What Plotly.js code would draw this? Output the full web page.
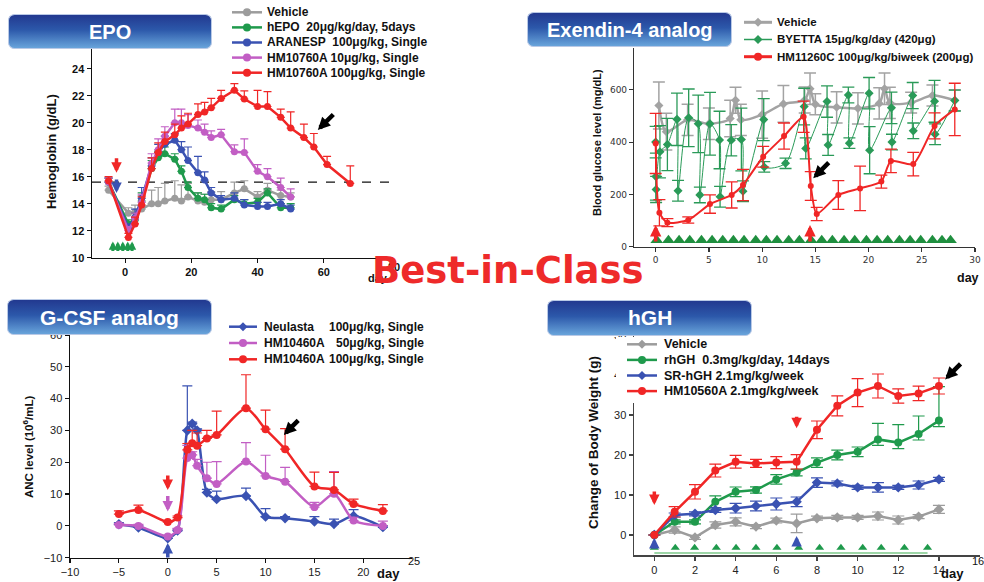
<!DOCTYPE html>
<html><head><meta charset="utf-8">
<script src="https://cdn.plot.ly/plotly-3.0.1.min.js"></script>
<style>html,body{margin:0;padding:0;background:#fff}#chart{width:984px;height:582px}</style>
</head><body><div id="chart"></div>
<script>
// ---------------- DATA ----------------
// EPO panel (Hemoglobin g/dL)
const epoDays      = [-5,1,3,5,8,10,12,15,17,19,22,24,26,29,33,36,40,43,47,50];
const epoDaysLong  = [-5,1,3,5,8,10,12,15,17,19,22,24,26,29,33,36,40,43,47,50,54,57,61,68];
const epoVehicle   = [15.0,13.3,13.4,13.6,14.0,14.0,14.2,14.4,14.2,14.5,14.2,14.1,14.3,14.3,14.8,15.1,14.5,15.0,14.6,14.5];
const epoHEPO      = [15.6,12.5,12.8,14.2,16.6,17.4,17.7,17.3,16.4,15.2,14.4,14.3,13.7,13.6,14.3,14.0,14.1,14.8,13.7,13.7];
const epoAranesp   = [15.6,12.2,13.0,14.4,16.8,17.8,18.4,18.7,18.0,17.2,16.3,15.75,14.8,14.3,14.4,13.9,13.8,13.8,14.0,13.6];
const epoHM10      = [15.6,12.0,12.9,14.1,17.0,18.0,19.0,20.0,20.0,19.8,19.6,19.3,18.9,19.1,17.85,17.8,16.4,16.0,15.2,14.5];
const epoHM100     = [15.7,11.5,12.5,13.9,16.6,17.8,18.6,19.1,19.6,19.9,20.6,20.8,21.1,21.8,22.4,21.75,21.2,21.2,20.4,19.6,18.9,18.2,16.9,15.5];
const epoErrVehicle= [0.3,0.4,0.5,1.0,1.0,1.2,1.3,1.3,1.2,1.0,0.6,0.6,0.6,0.6,0.8,0.6,0.4,0.5,0.4,0.3];
const epoErrHEPO   = [0.3,0.3,0.5,0.6,0.6,0.5,0.5,0.4,0.4,0.4,0.4,0.4,0.3,0.3,0.3,0.3,0.3,0.3,0.3,0.3];
const epoErrAran   = [0.3,0.3,0.6,0.8,0.6,0.6,0.6,0.5,0.6,1.0,1.2,0.6,0.4,0.3,0.4,0.4,0.3,0.3,0.3,0.3];
const epoErrHM10   = [0.3,0.3,0.4,0.6,0.7,0.8,0.7,1.0,1.0,0.8,0.6,0.6,0.5,0.4,0.5,1.0,0.5,0.6,0.7,0.6];
const epoErrHM100  = [0.3,0.3,0.5,0.6,0.8,0.7,0.7,0.8,0.9,0.8,0.8,0.7,0.7,0.6,0.5,0.6,1.2,1.1,0.6,1.2,1.0,1.0,0.6,1.3];
const epoBaseline  = 15.6;
const epoDoseDays  = [-3.7,-2.2,-0.7,0.8,2.1];
const epoNames     = ["Vehicle","hEPO\u00a0 20\u03bcg/kg/day, 5days","ARANESP\u00a0 100\u03bcg/kg, Single","HM10760A 10\u03bcg/kg, Single","HM10760A 100\u03bcg/kg, Single"];
const epoYTicks    = [10,12,14,16,18,20,22,24];
const epoXTicks    = [0,20,40,60];

// Exendin-4 panel (blood glucose mg/dL)
const exVehX  = [0.3,1,3,5,7,7.5,8,10,12,14,14.5,15,17,19,21,21.5,22,24,26,28.1];
const exVehY  = [540,440,485,470,490,560,485,505,546,561,604,545,533,529,548,604,550,551,578,560];
const exVehE  = [90,70,60,60,70,50,60,90,70,50,60,40,60,60,60,60,60,40,40,40];
const exByX   = [0,0.02,0.04,0.4,1.1,2.0,2.1,3.1,4.0,4.15,5.1,6.0,6.05,7.1,8.05,8.2,10.15,10.2,12.2,13.95,14.1,16.1,16.2,18.1,18.2,20.05,20.1,22.15,22.2,24.15,24.2,26.2,26.25,28.1];
const exByY   = [400,268,219,363,391,487,214,493,470,198,470,408,191,407,410,212,486,305,319,536,376,555,389,580,396,587,369,531,400,578,443,556,430,559];
const exByE   = [60,90,50,100,100,100,40,110,110,30,120,110,40,60,120,40,80,20,20,70,40,60,40,30,20,60,90,60,30,50,30,80,40,40];
const exHmX   = [0,0.35,1.1,3.06,5.1,7.14,8.2,10.1,12.06,13.9,14.57,15.13,17.16,19.2,21.2,22.1,24.2,26.2,28.1];
const exHmY   = [395,130,92,102,163,198,236,344,423,497,232,125,198,223,249,328,316,462,525];
const exHmE   = [115,50,15,12,35,50,60,40,50,60,55,25,55,85,25,45,45,50,100];
const exByDoseDays = [0.1,1.2,2.2,3.2,4.3,5.3,6.3,7.3,8.3,9.4,10.4,11.4,12.5,13.5,14.6,15.6,16.6,17.7,18.7,19.8,20.8,21.8,22.9,23.9,24.9,26.0,26.9,27.7];
const exHmDoseDays = [0,14.5];
const exNames = ["Vehicle","BYETTA 15\u03bcg/kg/day (420\u03bcg)","HM11260C 100\u03bcg/kg/biweek (200\u03bcg)"];
const exYTicks = [0,200,400,600];
const exXTicks = [0,5,10,15,20,25,30];

// G-CSF panel (ANC level)
const gDays     = [-5,-3,0,1,2,2.5,3,4,5,8,10,12,15,17,19,22];
const gNeulasta = [0.5,-0.5,-3.9,-1.5,30.0,32.1,30.0,10.5,8.4,9.4,2.9,2.4,1.4,0.6,3.1,-0.4];
const gHM50     = [0.3,0.0,-3.3,-1.3,21.3,22.3,18.9,15.0,13.2,20.2,15.7,13.9,5.9,10.1,1.7,0.0];
const gHM100    = [3.7,5.0,1.2,2.6,23.9,26.0,25.2,27.5,28.6,37.0,30.4,24.1,12.4,11.3,6.9,4.7];
const gErrNeu   = [0.5,0.5,0,0.5,14,0.5,0.5,1,2.5,2.5,2.5,0.5,1.5,1.5,2,0.5];
const gErr50    = [0.5,0.5,0,0.5,4,1,2,5,7,6,6.5,4.5,1.5,7,1,1.5];
const gErr100   = [1.0,1.5,0,0.5,2,4,4,2.5,7.5,10.5,6,6.5,4.5,5.5,1.5,2];
const gNames    = [["Neulasta","100\u03bcg/kg, Single"],["HM10460A","50\u03bcg/kg, Single"],["HM10460A","100\u03bcg/kg, Single"]];
const gYTicks   = [-10,0,10,20,30,40,50,60];
const gXTicks   = [-10,-5,0,5,10,15,20];

// hGH panel (change of body weight g)
const hDays    = [0,1,2,3,4,5,6,7,8,9,10,11,12,13,14];
const hVehicle = [0,1.25,-0.6,2.5,3.3,2.1,3.6,2.9,4.2,4.4,4.4,4.75,3.75,4.6,6.4];
const hRhGH    = [0,3.3,3.3,8.3,10.8,11.25,13.9,15.6,18.1,20.0,20.8,23.9,23.1,25.25,28.6];
const hSR      = [0,5.0,5.3,6.25,6.7,7.25,7.75,8.3,13.1,12.9,11.9,11.9,11.9,12.5,13.9];
const hHM      = [0,5.8,10.8,16.1,18.3,17.9,18.1,18.3,26.3,32.3,35.6,37.25,34.75,35.4,37.25];
const hErrVeh  = [0,0.8,0.5,0.8,1.0,0.5,0.6,2.3,0.5,0.5,0.5,1.0,1.0,0.5,1.0];
const hErrRhUp = [0,0.5,0.5,1.5,1.2,0.8,1.2,0.8,1.2,1.2,1.2,4.0,4.5,4.5,8.5];
const hErrRhDn = [0,0.5,0.5,1.5,1.2,0.8,1.2,0.8,1.2,1.2,1.2,1.5,1.5,1.5,1.5];
const hErrSR   = [0,0.5,0.5,0.6,1.2,1.2,1.5,1.2,1.2,0.6,0.5,1.2,0.5,1.0,0.5];
const hErrHM   = [0,1.3,1.8,1.6,1.6,1.0,1.5,1.8,2.2,2.5,3.5,3.0,1.8,1.8,2.0];
const hDoseDays= [0,1.03,1.98,3.05,4.02,5,6.03,7.1,8.13,9.18,10.25,11.16,12.3,13.44];
const hNames   = ["Vehicle","rhGH\u00a0 0.3mg/kg/day, 14days","SR-hGH 2.1mg/kg/week","HM10560A 2.1mg/kg/week"];
const hYTicks  = [0,10,20,30,40,50];
const hXTicks  = [0,2,4,6,8,10,12,14];

// ---------------- STYLE / HELPERS ----------------
const W = 984, H = 582;
const px = x => x / W;
const py = y => 1 - y / H;
const FONT = "Liberation Sans, Arial, sans-serif";
const C = {gray:'#9c9c9c', green:'#1f9a4c', blue:'#3a52b2', pink:'#c25ec4', red:'#f02626',
           exGreen:'#2a9a58', exGray:'#a3a3a3'};

function series(ax, x, y, up, dn, color, opt) {
  opt = opt || {};
  return {type:'scatter', mode:'lines+markers', x:x, y:y, xaxis:'x'+ax, yaxis:'y'+ax,
    line:{color:color, width:opt.lw||2.5, shape:opt.shape||'linear', smoothing:opt.smooth||1},
    marker:{color:color, size:opt.ms||7, symbol:opt.symbol||'circle'},
    error_y:{type:'data', array:up, arrayminus:dn, symmetric:false, color:opt.ec||color,
             thickness:opt.et||1.2, width:opt.ew||4},
    hoverinfo:'skip', showlegend:false};
}
const zeros = a => a.map(() => 0);

const traces = [];
// EPO
traces.push(series('', epoDays, epoVehicle, epoErrVehicle, zeros(epoErrVehicle), C.gray));
traces.push(series('', epoDays, epoHEPO, epoErrHEPO, zeros(epoErrHEPO), C.green));
traces.push(series('', epoDays, epoAranesp, epoErrAran, zeros(epoErrAran), C.blue));
traces.push(series('', epoDays, epoHM10, epoErrHM10, zeros(epoErrHM10), C.pink));
traces.push(series('', epoDaysLong, epoHM100, epoErrHM100, zeros(epoErrHM100), C.red));
// Exendin
traces.push(series('2', exVehX, exVehY, exVehE, exVehE, C.exGray, {shape:'spline', smooth:0.8, symbol:'diamond', ms:7, lw:2.5, ew:6, et:1.5}));
traces.push(series('2', exByX, exByY, exByE, exByE, C.exGreen, {shape:'spline', smooth:0.8, symbol:'diamond', ms:7, lw:1, ew:6, et:1.3}));
traces.push(series('2', exHmX, exHmY, exHmE, exHmE, C.red, {shape:'spline', smooth:0.6, symbol:'circle', ms:6, lw:2, ew:6, et:1.3}));
traces.push({type:'scatter', mode:'markers', x:exByDoseDays, y:exByDoseDays.map(() => 25), xaxis:'x2', yaxis:'y2',
  marker:{symbol:'triangle-up', size:11, color:'#1f8f3f'}, hoverinfo:'skip', showlegend:false});
// G-CSF
traces.push(series('3', gDays, gNeulasta, gErrNeu, zeros(gErrNeu), C.blue, {shape:'spline', smooth:0.7, symbol:'diamond', ms:8, ew:5}));
traces.push(series('3', gDays, gHM50, gErr50, zeros(gErr50), C.pink, {shape:'spline', smooth:0.7, ms:8, ew:5}));
traces.push(series('3', gDays, gHM100, gErr100, zeros(gErr100), C.red, {shape:'spline', smooth:0.7, ms:8, ew:5}));
// hGH
traces.push(series('4', hDays, hVehicle, hErrVeh, hErrVeh, C.gray, {symbol:'diamond', ms:8, ew:6}));
traces.push(series('4', hDays, hRhGH, hErrRhUp, hErrRhDn, C.green, {ms:8, ew:6}));
traces.push(series('4', hDays, hSR, hErrSR, hErrSR, C.blue, {symbol:'diamond', ms:8, ew:6}));
traces.push(series('4', hDays, hHM, hErrHM, hErrHM, C.red, {ms:8, ew:6}));
traces.push({type:'scatter', mode:'lines', x:[hDoseDays[0], hDoseDays[hDoseDays.length-1]], y:[-4.5,-4.5], xaxis:'x4', yaxis:'y4',
  line:{color:'#7cc98a', width:1.5}, hoverinfo:'skip', showlegend:false});
traces.push({type:'scatter', mode:'markers', x:hDoseDays, y:hDoseDays.map(() => -3.2), xaxis:'x4', yaxis:'y4',
  marker:{symbol:'triangle-up', size:8, color:'#1f9a4c'}, hoverinfo:'skip', showlegend:false});

// axes
function axis(domain, range, tickvals, font, extra) {
  return Object.assign({domain:domain, range:range, tickvals:tickvals, showline:true, linecolor:'#111', linewidth:1.5,
    ticks:'outside', ticklen:4, tickwidth:1.2, tickcolor:'#111', showgrid:false, zeroline:false, tickfont:font, fixedrange:true}, extra||{});
}
const fBold11 = {family:FONT, size:11, color:'#111', weight:'bold'};
const fReg11  = {family:FONT, size:11, color:'#222'};
const fSmall  = {family:"DejaVu Sans, sans-serif", size:9, color:'#333'};

const layout = {
  width:W, height:H, margin:{l:0,r:0,t:0,b:0}, paper_bgcolor:'#fff', plot_bgcolor:'rgba(0,0,0,0)', showlegend:false,
  xaxis : axis([px(92), px(390)], [-10,80], epoXTicks, fBold11, {anchor:'y'}),
  yaxis : axis([py(257.7), py(48.45)], [10,25.5], epoYTicks, fBold11, {anchor:'x'}),
  xaxis2: axis([px(634.4), px(975)], [-2,30], exXTicks, fSmall, {anchor:'y2', linecolor:'#333', tickcolor:'#333'}),
  yaxis2: axis([py(246.7), py(47.96)], [0,760], exYTicks, fSmall, {anchor:'x2', linecolor:'#333', tickcolor:'#333'}),
  xaxis3: axis([px(70), px(412.2)], [-10,25], gXTicks, fReg11, {anchor:'y3'}),
  yaxis3: axis([py(557.7), py(335)], [-10,60], gYTicks, fReg11, {anchor:'x3'}),
  xaxis4: axis([px(634), px(979.6)], [-1,16], hXTicks, fReg11, {anchor:'y4', linecolor:'#444', tickcolor:'#444'}),
  yaxis4: axis([py(555), py(315)], [-5,55], hYTicks, fReg11, {anchor:'x4', linecolor:'#444', tickcolor:'#444'}),
  shapes:[], annotations:[], images:[]
};
const S = layout.shapes, A = layout.annotations;

// EPO baseline dashed
S.push({type:'line', xref:'x', yref:'y', x0:-10, x1:80, y0:epoBaseline, y1:epoBaseline, line:{color:'#111', width:1.3, dash:'dash'}, layer:'below'});

// hGH legend background (covers top of axis)
S.push({type:'rect', xref:'paper', yref:'paper', x0:px(616), x1:px(830), y0:py(403), y1:py(337), fillcolor:'#fff', line:{width:0}, layer:'above'});

// legend builder
function legendItem(lx0, lx1, y, color, symbol, text, tx, fsize, lw) {
  S.push({type:'line', xref:'paper', yref:'paper', x0:px(lx0), x1:px(lx1), y0:py(y), y1:py(y), line:{color:color, width:lw||2.5}, layer:'above'});
  const mx = (lx0 + lx1) / 2;
  if (symbol === 'diamond') {
    S.push({type:'path', xref:'paper', yref:'paper', xsizemode:'pixel', ysizemode:'pixel', xanchor:px(mx), yanchor:py(y),
      path:'M0,-4.5L4.5,0L0,4.5L-4.5,0Z', fillcolor:color, line:{width:0}, layer:'above'});
  } else {
    S.push({type:'circle', xref:'paper', yref:'paper', xsizemode:'pixel', ysizemode:'pixel', xanchor:px(mx), yanchor:py(y),
      x0:-4, x1:4, y0:-4, y1:4, fillcolor:color, line:{width:0}, layer:'above'});
  }
  if (text) A.push({xref:'paper', yref:'paper', x:px(tx), y:py(y), xanchor:'left', yanchor:'middle', showarrow:false,
      text:text, font:{family:FONT, size:fsize, color:'#111', weight:'bold'}});
}
const epoCols = [C.gray, C.green, C.blue, C.pink, C.red];
epoNames.forEach((n,i) => legendItem(232, 262, 12.3 + i*15.1, epoCols[i], 'circle', n, 265, 12));
const exCols = [C.exGray, C.exGreen, C.red], exSyms = ['diamond','diamond','circle'];
exNames.forEach((n,i) => legendItem(744, 772, 22.3 + i*17.2, exCols[i], exSyms[i], n, 775, 11.5, i===1?1.5:3));
const gCols = [C.blue, C.pink, C.red], gSyms = ['diamond','circle','circle'];
gNames.forEach((n,i) => {
  legendItem(229, 257, 326.7 + i*16.3, gCols[i], gSyms[i], n[0], 262, 12);
  A.push({xref:'paper', yref:'paper', x:px(426), y:py(326.7 + i*16.3), xanchor:'right', yanchor:'middle', showarrow:false,
    text:n[1], font:{family:FONT, size:12, color:'#111', weight:'bold'}});
});
const hCols = [C.gray, C.green, C.blue, C.red], hSyms = ['diamond','circle','diamond','circle'];
hNames.forEach((n,i) => legendItem(627, 657, 344.3 + i*15.6, hCols[i], hSyms[i], n, 662, 12.5));

// banners
const bannerSrc = 'data:image/svg+xml;base64,' + btoa('<svg xmlns="http://www.w3.org/2000/svg" width="200" height="36" viewBox="0 0 200 36" preserveAspectRatio="none"><defs><linearGradient id="g" x1="0" y1="0" x2="0" y2="1"><stop offset="0" stop-color="#22388f"/><stop offset="0.45" stop-color="#2c58aa"/><stop offset="1" stop-color="#6aa6dc"/></linearGradient></defs><rect x="0.5" y="0.5" width="199" height="35" rx="6" ry="6" fill="url(#g)" stroke="#b9c9e6" stroke-width="1"/></svg>');
function banner(x0, y0, x1, y1, text, fsize) {
  layout.images.push({source:bannerSrc, xref:'paper', yref:'paper', x:px(x0), y:py(y0), sizex:(x1-x0)/W, sizey:(y1-y0)/H,
    xanchor:'left', yanchor:'top', sizing:'stretch', layer:'above'});
  A.push({xref:'paper', yref:'paper', x:px((x0+x1)/2), y:py((y0+y1)/2), xanchor:'center', yanchor:'middle', showarrow:false,
    text:text, font:{family:FONT, size:fsize, color:'#fff', weight:'bold'}});
}
banner(8, 14, 212, 49, 'EPO', 20);
banner(527, 12, 732, 47, 'Exendin-4 analog', 20);
banner(7, 299, 212, 335, 'G-CSF analog', 21);
banner(547, 300, 752, 336, 'hGH', 21);

// axis titles
function vtitle(x, y, text, size) {
  A.push({xref:'paper', yref:'paper', x:px(x), y:py(y), textangle:-90, xanchor:'center', yanchor:'middle', showarrow:false,
    text:text, font:{family:FONT, size:size, color:'#111', weight:'bold'}});
}
vtitle(52, 152, 'Hemoglobin (g/dL)', 13);
vtitle(597, 143, 'Blood glucose level (mg/dL)', 11);
vtitle(28, 447, 'ANC level (10<sup>6</sup>/mL)', 11.5);
vtitle(593, 443, 'Change of Body Weight (g)', 13.5);

function ptext(x, y, text, size, bold, color) {
  A.push({xref:'paper', yref:'paper', x:px(x), y:py(y), xanchor:'center', yanchor:'middle', showarrow:false,
    text:text, font:{family:FONT, size:size, color:color||'#111', weight:bold?'bold':'normal'}});
}
ptext(378, 278, 'day', 11, true);
ptext(394, 267, '80', 11, true);
ptext(968, 278, 'day', 12.5, true);
ptext(388, 573, 'day', 13, true);
ptext(414, 561, '25', 11, false);
ptext(952, 573, 'day', 13, true);
ptext(978, 561, '16', 11, false);

// arrows
function arrow(ax, x, y, dx, dy, color, w, size) {
  A.push({xref:'x'+ax, yref:'y'+ax, x:x, y:y, ax:dx, ay:dy, showarrow:true, text:'', arrowcolor:color,
    arrowwidth:w, arrowhead:2, arrowsize:size, standoff:0});
}
// EPO
arrow('', -2.6, 16.3, 0, -16, C.red, 3.5, 0.6);
arrow('', -2.6, 14.8, 0, -15, C.blue, 3.5, 0.6);
epoDoseDays.forEach(d => arrow('', d, 11.2, 0, 11, C.green, 3, 0.55));
arrow('', 58.2, 19.46, 17, -17, '#000', 4.5, 0.55);
// Exendin
exHmDoseDays.forEach(d => arrow('2', d, 83, 0, 18, C.red, 3.5, 0.65));
arrow('2', 14.8, 262, 17, -17, '#000', 4.5, 0.55);
// G-CSF
arrow('3', 0, 11.3, 0, -16, C.red, 3.5, 0.6);
arrow('3', 0, 4.5, 0, -17, C.pink, 3.5, 0.6);
arrow('3', 0, -5.4, 0, 16, C.blue, 3.5, 0.6);
arrow('3', 11.86, 28.6, 16, -16, '#000', 4.5, 0.55);
// hGH
arrow('4', 0, 7.5, 0, -15, C.red, 3.5, 0.6);
arrow('4', 7, 26.7, 0, -13, C.red, 3.5, 0.6);
arrow('4', 0, -0.75, 0, 12, C.blue, 3.5, 0.6);
arrow('4', 7, -0.25, 0, 11, C.blue, 3.5, 0.6);
arrow('4', 14.3, 38.9, 17, -17, '#000', 4.5, 0.55);

// Best-in-Class
A.push({xref:'paper', yref:'paper', x:px(508), y:py(270), xanchor:'center', yanchor:'middle', showarrow:false,
  text:'Best-in-Class', font:{family:"DejaVu Sans, sans-serif", size:37, color:'#ee2a2a', weight:'bold'}});

Plotly.newPlot('chart', traces, layout, {displayModeBar:false, staticPlot:true});
</script></body></html>
